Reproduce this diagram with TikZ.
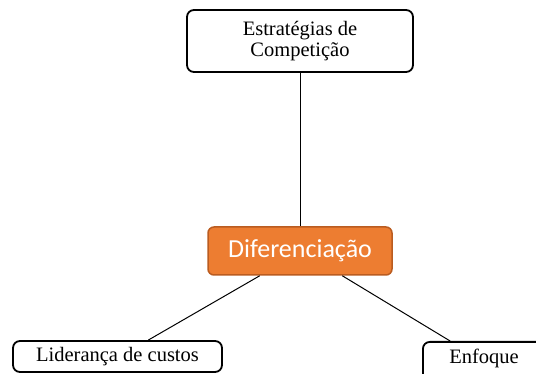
\documentclass[tikz,border=0pt]{standalone}
\usepackage{fontspec}
\setmainfont{Liberation Serif}
\newfontfamily\calibri{Carlito}
\usetikzlibrary{calc}
\definecolor{orfill}{HTML}{ED7D31}
\definecolor{ordraw}{HTML}{BA5C20}
\tikzset{
  whitebox/.style={draw=black, line width=1.8pt, rounded corners=7pt, fill=white, inner sep=0pt, align=center,
     font=\fontsize{20.5}{21.6}\selectfont},
  mainbox/.style={draw=ordraw, line width=1.5pt, rounded corners=6pt, fill=orfill, inner sep=0pt, align=center,
     text=white, font=\calibri\fontsize{26}{30}\selectfont},
  link/.style={draw=black, line width=1pt}
}
\begin{document}
\begin{tikzpicture}[x=1pt,y=-1pt]
\useasboundingbox (0,0) rectangle (536,374);
\clip (0,0) rectangle (536,374);
\fill[white] (0,0) rectangle (536,374);
\node[whitebox, minimum width=226pt, minimum height=62pt] (top) at (300,41) {Estratégias de\\Competição};
\node[mainbox, minimum width=184pt, minimum height=48pt] (mid) at (300,251) {Diferenciação};
\node[whitebox, minimum width=209pt, minimum height=31pt] (lid) at (117.5,356.5) {Liderança de custos};
\node[whitebox, minimum width=126pt, minimum height=40pt, anchor=north west] (enf) at (422,341) {};
\node[font=\fontsize{20.5}{21.6}\selectfont, inner sep=0pt, anchor=base] (enft) at (484,363) {Enfoque};
\draw[link] (top.south) -- (mid.north);
\draw[link] ($(mid.south west)!0.283!(mid.south east)$) -- ($(lid.north west)!0.646!(lid.north east)$);
\draw[link] ($(mid.south west)!0.728!(mid.south east)$) -- ($(enf.north west)!0.22!(enf.north east)$);
\end{tikzpicture}
\end{document}
